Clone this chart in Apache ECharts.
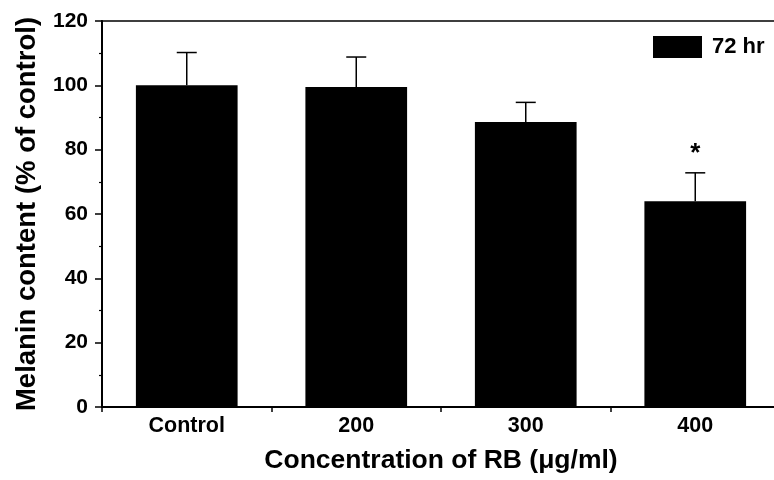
<!DOCTYPE html>
<html>
<head>
<meta charset="utf-8">
<script src="https://cdn.jsdelivr.net/npm/echarts@6/dist/echarts.min.js"></script>
<style>
  html, body { margin: 0; padding: 0; background: #fff; }
  #chart01 { width: 774px; height: 480px; }
</style>
</head>
<body>
<div id="chart01"></div>
<script>
// data
var categories = ["Control", "200", "300", "400"];
var melanin = [100, 99.5, 88.6, 64];
var errorTop = [110.2, 108.8, 94.7, 72.8];
var marks = ["", "", "", "*"];

var font = "'Liberation Sans', Arial, sans-serif";
var myChart01 = echarts.init(document.getElementById('chart01'));

var option = {
    animation: false,
    grid: { left: 102, width: 678, top: 21, bottom: 73, containLabel: false, outerBoundsMode: "none" },
    legend: {
        left: 648,
        top: 31,
        icon: "rect",
        itemWidth: 49,
        itemHeight: 22,
        itemGap: 8,
        textStyle: { fontFamily: font, fontWeight: "bold", fontSize: 22, color: "#000", padding: [0, 0, 0, 5] },
        data: ["72 hr"]
    },
    xAxis: [
        {
            type: "category",
            data: categories,
            name: "Concentration of RB (\u03bcg/ml)",
            nameLocation: "middle",
            nameGap: 40,
            nameTextStyle: { fontFamily: font, fontWeight: "bold", fontSize: 26.5, color: "#000" },
            axisLine: { lineStyle: { color: "#000", width: 2 } },
            axisTick: { show: true, length: 5, lineStyle: { color: "#000", width: 1.5 } },
            axisLabel: { fontFamily: font, fontWeight: "bold", fontSize: 21.5, color: "#000", margin: 8 }
        },
        {
            type: "category",
            position: "top",
            data: categories,
            axisLine: { lineStyle: { color: "#000", width: 1.5 } },
            axisTick: { show: false },
            axisLabel: { show: false }
        }
    ],
    yAxis: {
        type: "value",
        min: 0,
        max: 120,
        interval: 20,
        name: "Melanin content (% of control)",
        nameLocation: "middle",
        nameGap: 61,
        nameTextStyle: { fontFamily: font, fontWeight: "bold", fontSize: 27.5, color: "#000" },
        axisLine: { show: true, lineStyle: { color: "#000", width: 2 } },
        axisTick: { show: true, length: 7, lineStyle: { color: "#000", width: 1.5 } },
        minorTick: { show: true, splitNumber: 2, length: 3, lineStyle: { color: "#000", width: 1.2 } },
        splitLine: { show: false },
        axisLabel: { fontFamily: font, fontWeight: "bold", fontSize: 21, color: "#000", margin: 14 }
    },
    series: [
        {
            name: "72 hr",
            type: "bar",
            barWidth: "60%",
            itemStyle: { color: "#000" },
            data: melanin
        },
        {
            type: "custom",
            renderItem: function (params, api) {
                var i = api.value(0);
                var base = api.coord([i, api.value(1)]);
                var top = api.coord([i, api.value(2)]);
                var half = 10;
                var children = [
                    { type: "line", shape: { x1: base[0], y1: base[1], x2: top[0], y2: top[1] }, style: { stroke: "#000", lineWidth: 1.5 } },
                    { type: "line", shape: { x1: top[0] - half, y1: top[1], x2: top[0] + half, y2: top[1] }, style: { stroke: "#000", lineWidth: 1.5 } }
                ];
                var m = marks[i];
                if (m) {
                    children.push({
                        type: "text",
                        style: { text: m, x: top[0], y: top[1] - 6, align: "center", verticalAlign: "bottom",
                                 font: "bold 26px " + font, fill: "#000" }
                    });
                }
                return { type: "group", children: children };
            },
            data: categories.map(function (c, i) { return [i, melanin[i], errorTop[i]]; }),
            z: 5
        }
    ]
};

myChart01.setOption(option);
</script>
</body>
</html>
